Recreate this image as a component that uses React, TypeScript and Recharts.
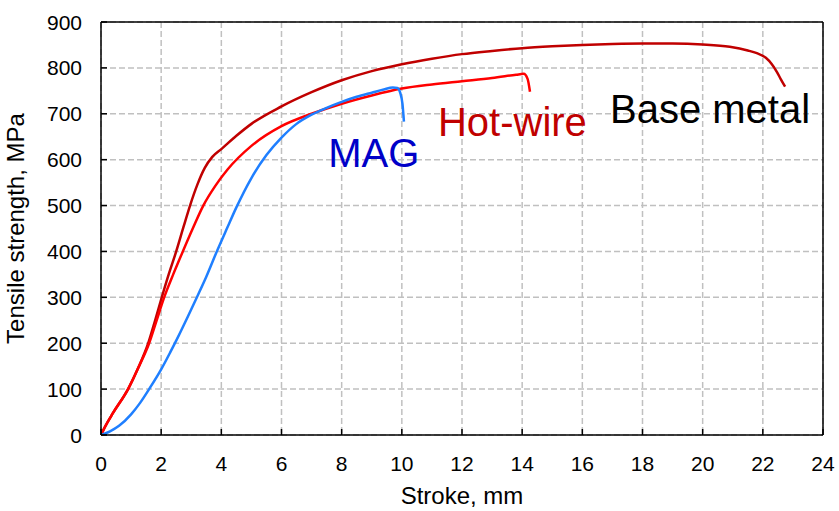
import {
  LineChart,
  Line,
  XAxis,
  YAxis,
  CartesianGrid,
  ReferenceLine,
  ReferenceDot,
} from 'recharts'

// stroke (mm) / tensile strength (MPa)
const baseStroke = [0, 0.15, 0.4, 0.9, 1.25, 1.57, 1.8, 2.02, 2.25, 2.5, 2.75, 2.96, 3.2, 3.45, 3.7, 4.0, 4.5, 5.0, 6.0, 7.0, 8.0, 9.0, 10.0, 11.0, 12.0, 13.0, 14.0, 15.0, 16.0, 17.0, 18.0, 19.0, 20.0, 20.9, 21.5, 21.8, 22.1, 22.3, 22.46, 22.6, 22.74]
const baseStress = [0, 20, 48, 100, 148, 200, 250, 300, 350, 400, 455, 500, 545, 582, 606, 623, 652, 678, 716, 747, 773, 793, 808, 820, 830, 837, 843, 847, 850, 852, 853, 853, 851, 846, 838, 832, 822, 808, 792, 775, 759]

const hotStroke = [0, 0.15, 0.4, 0.9, 1.25, 1.6, 1.85, 2.1, 2.4, 2.72, 3.05, 3.4, 3.8, 4.2, 5.0, 6.0, 7.0, 8.0, 9.0, 10.0, 11.0, 12.0, 13.0, 13.8, 14.05, 14.18, 14.26]
const hotStress = [0, 20, 48, 100, 148, 200, 250, 300, 350, 400, 450, 500, 543, 578, 630, 673, 700, 722, 740, 755, 764, 771, 778, 785, 787, 776, 748]

const magStroke = [0, 0.3, 0.6, 1.0, 1.3, 1.6, 2.0, 2.3, 2.57, 2.9, 3.2, 3.5, 3.85, 4.2, 4.5, 5.0, 5.5, 6.0, 6.5, 7.0, 7.5, 8.0, 8.5, 9.0, 9.4, 9.7, 9.85, 9.95, 10.02, 10.07]
const magStress = [0, 8, 20, 45, 70, 100, 143, 180, 215, 260, 302, 345, 400, 452, 496, 560, 610, 648, 678, 698, 713, 726, 737, 746, 753, 757, 756, 745, 722, 683]

const xTicks = [0, 2, 4, 6, 8, 10, 12, 14, 16, 18, 20, 22, 24]
const yTicks = [0, 100, 200, 300, 400, 500, 600, 700, 800, 900]

const labelText = ['Base metal', 'Hot-wire', 'MAG']
const labelStroke = [16.92, 11.2, 7.55]
const labelStress = [680, 651, 585]
const labelColor = ['#000000', '#c00000', '#0000c8']

const toPoints = (xs: number[], ys: number[]) => xs.map((x, i) => ({ x, y: ys[i] }))

const baseData = toPoints(baseStroke, baseStress)
const hotData = toPoints(hotStroke, hotStress)
const magData = toPoints(magStroke, magStress)

const FONT = '"Liberation Sans", Arial, sans-serif'

const XTick = ({ x, y, payload }: any) => (
  <g>
    <line x1={x} y1={y} x2={x} y2={y - 6} stroke="#000" strokeWidth={1.5} />
    <text x={x} y={y + 36} textAnchor="middle" fontSize={21} fontFamily={FONT} fill="#000">
      {payload.value}
    </text>
  </g>
)

const YTick = ({ x, y, payload }: any) => (
  <g>
    <line x1={x} y1={y} x2={x + 6} y2={y} stroke="#000" strokeWidth={1.5} />
    <text x={x - 19} y={y} dy="0.36em" textAnchor="end" fontSize={21} fontFamily={FONT} fill="#000">
      {payload.value}
    </text>
  </g>
)

const annot = (text: string, color: string) => (props: any) => {
  const { x, y } = props.viewBox
  return (
    <text x={x} y={y} fontSize={40} fontFamily={FONT} fill={color}>
      {text}
    </text>
  )
}

const xTitle = (props: any) => {
  const { x, width } = props.viewBox
  return (
    <text x={x + width / 2} y={504} textAnchor="middle" fontSize={24} fontFamily={FONT} fill="#000">
      Stroke, mm
    </text>
  )
}

const yTitle = (props: any) => {
  const { x, y, height } = props.viewBox
  const cx = x + 24
  const cy = y + height / 2
  return (
    <text
      x={cx}
      y={cy}
      transform={`rotate(-90 ${cx} ${cy})`}
      textAnchor="middle"
      fontSize={24}
      fontFamily={FONT}
      fill="#000"
    >
      Tensile strength, MPa
    </text>
  )
}

export default function App() {
  return (
    <div style={{ position: 'absolute', left: 0, top: 0, background: '#fff' }}>
      <LineChart width={839} height={511} margin={{ top: 22, right: 16, bottom: 0, left: 0 }}>
        <CartesianGrid stroke="#c0c0c0" strokeWidth={1.5} strokeDasharray="6 3" />
        <XAxis
          dataKey="x"
          type="number"
          domain={[0, 24]}
          ticks={xTicks}
          height={76}
          tickSize={0}
          tickMargin={0}
          tickLine={false}
          axisLine={{ stroke: '#000', strokeWidth: 1.5 }}
          tick={<XTick />}
          label={{ content: xTitle }}
          allowDataOverflow
        />
        <YAxis
          type="number"
          domain={[0, 900]}
          ticks={yTicks}
          width={101}
          tickSize={0}
          tickMargin={0}
          tickLine={false}
          axisLine={{ stroke: '#000', strokeWidth: 1.5 }}
          tick={<YTick />}
          label={{ content: yTitle }}
          allowDataOverflow
        />
        <ReferenceLine y={900} stroke="#000" strokeWidth={1.5} />
        <ReferenceLine x={24} stroke="#000" strokeWidth={1.5} />
        <Line data={baseData} dataKey="y" type="monotone" stroke="#c00000" strokeWidth={2.5} dot={false} isAnimationActive={false} />
        <Line data={hotData} dataKey="y" type="monotone" stroke="#ff0000" strokeWidth={2.5} dot={false} isAnimationActive={false} />
        <Line data={magData} dataKey="y" type="monotone" stroke="#1f7fff" strokeWidth={2.5} dot={false} isAnimationActive={false} />
        {labelText.map((t, i) => (
          <ReferenceDot
            key={t}
            x={labelStroke[i]}
            y={labelStress[i]}
            r={0}
            fill="none"
            stroke="none"
            label={annot(t, labelColor[i])}
          />
        ))}
      </LineChart>
    </div>
  )
}
